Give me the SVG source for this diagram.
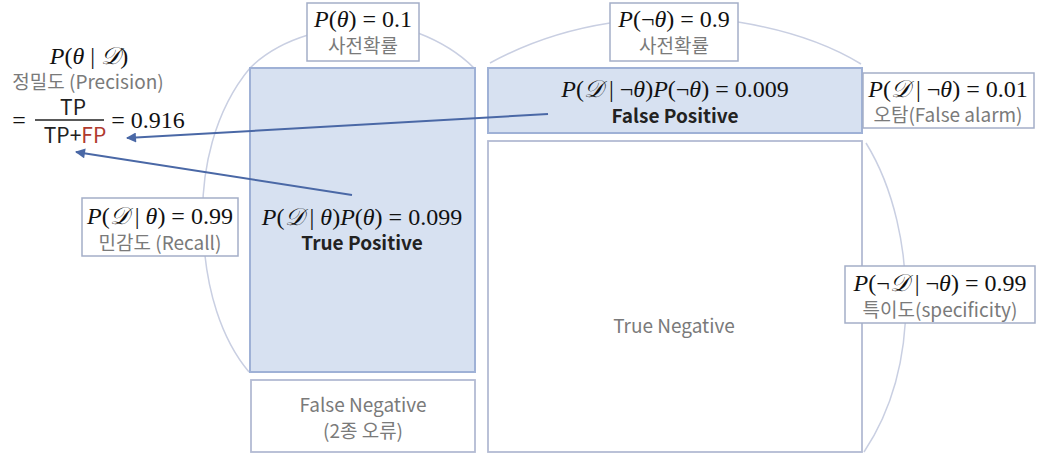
<svg xmlns="http://www.w3.org/2000/svg" width="1050" height="456" viewBox="0 0 1050 456">
<defs>
<style>
.arc{fill:none;stroke:#c9cfe2;stroke-width:1.5}
.blue{fill:#d7e1f1;stroke:#9fb1d6;stroke-width:2}
.white{fill:#fff;stroke:#b3bbd3;stroke-width:1.8}
.lbl{fill:#fff;stroke:#a4aec8;stroke-width:1.5}
.m{font-family:"Liberation Serif","DejaVu Serif",serif;font-size:24px;fill:#111;text-anchor:middle}
.i{font-style:italic}
.g{font-family:"Noto Sans CJK KR","Noto Sans",sans-serif;font-size:19px;fill:#7a7a7a;text-anchor:middle}
.b{font-family:"Noto Sans CJK KR","Noto Sans",sans-serif;font-size:19px;font-weight:bold;fill:#222;text-anchor:middle}
.s{font-family:"Noto Sans CJK KR","Noto Sans",sans-serif;font-size:21px;fill:#222;text-anchor:middle}
.arr{stroke:#4a68a6;stroke-width:2;fill:none;marker-end:url(#ah)}
</style>
<marker id="ah" viewBox="0 0 10 10" refX="9" refY="5" markerWidth="6" markerHeight="5" orient="auto" markerUnits="strokeWidth">
<path d="M0,0 L10,5 L0,10 z" fill="#4a68a6"/>
</marker>
</defs>
<rect width="1050" height="456" fill="#fff"/>
<g id="arcs">
<path class="arc" d="M308,35 Q272,46 250,68 C215,110 200,170 203,228 C205,290 222,340 249,372"/>
<path class="arc" d="M418,33 Q452,46 474,68"/>
<path class="arc" d="M490,63 Q545,33 610,23"/>
<path class="arc" d="M738,22 Q812,34 861,64"/>
<path class="arc" d="M866,143 C895,190 906,250 906,300 C906,360 892,410 864,452"/>
</g>
<g id="tp">
<rect class="blue" x="250" y="68" width="225" height="304"/>
<text class="m" x="362" y="225"><tspan class="i">P</tspan>(<tspan class="i">𝒟</tspan> | <tspan class="i">θ</tspan>)<tspan class="i">P</tspan>(<tspan class="i">θ</tspan>) = 0.099</text>
<text class="b" x="362" y="250">True Positive</text>
</g>
<g id="fn">
<rect class="white" x="251" y="380" width="224" height="72"/>
<text class="g" x="363" y="412">False Negative</text>
<text class="g" x="363" y="438">(2종 오류)</text>
</g>
<g id="fp">
<rect class="blue" x="488" y="68" width="374" height="65"/>
<text class="m" x="675" y="97"><tspan class="i">P</tspan>(<tspan class="i">𝒟</tspan> | ¬<tspan class="i">θ</tspan>)<tspan class="i">P</tspan>(¬<tspan class="i">θ</tspan>) = 0.009</text>
<text class="b" x="675" y="123">False Positive</text>
</g>
<g id="tn">
<rect class="white" x="488" y="141" width="374" height="311"/>
<text class="g" x="674" y="333">True Negative</text>
</g>
<g id="prior-theta">
<rect class="lbl" x="307" y="3" width="112" height="58"/>
<text class="m" x="363" y="27"><tspan class="i">P</tspan>(<tspan class="i">θ</tspan>) = 0.1</text>
<text class="g" x="363" y="53">사전확률</text>
</g>
<g id="prior-not-theta">
<rect class="lbl" x="610" y="3" width="128" height="58"/>
<text class="m" x="674" y="27"><tspan class="i">P</tspan>(¬<tspan class="i">θ</tspan>) = 0.9</text>
<text class="g" x="674" y="53">사전확률</text>
</g>
<g id="false-alarm">
<rect class="lbl" x="863" y="73" width="171" height="55"/>
<text class="m" x="948" y="97"><tspan class="i">P</tspan>(<tspan class="i">𝒟</tspan> | ¬<tspan class="i">θ</tspan>) = 0.01</text>
<text class="g" x="948" y="122">오탐(False alarm)</text>
</g>
<g id="recall">
<rect class="lbl" x="82" y="198" width="156" height="58"/>
<text class="m" x="160" y="224"><tspan class="i">P</tspan>(<tspan class="i">𝒟</tspan> | <tspan class="i">θ</tspan>) = 0.99</text>
<text class="g" x="160" y="250">민감도 (Recall)</text>
</g>
<g id="specificity">
<rect class="lbl" x="845" y="266" width="190" height="57"/>
<text class="m" x="940" y="291"><tspan class="i">P</tspan>(¬<tspan class="i">𝒟</tspan> | ¬<tspan class="i">θ</tspan>) = 0.99</text>
<text class="g" x="940" y="317">특이도(specificity)</text>
</g>
<g id="precision">
<text class="m" x="89" y="64"><tspan class="i">P</tspan>(<tspan class="i">θ</tspan> | <tspan class="i">𝒟</tspan>)</text>
<text class="g" x="88" y="89">정밀도 (Precision)</text>
<text class="m" x="19" y="128">=</text>
<text class="s" x="73" y="115">TP</text>
<line x1="35" y1="120" x2="104" y2="120" stroke="#222" stroke-width="1.3"/>
<text class="s" x="75" y="143">TP+<tspan fill="#b03a2e">FP</tspan></text>
<text class="m" x="148" y="128">= 0.916</text>
</g>
<g id="connectors">
<line class="arr" x1="548" y1="114" x2="127" y2="138"/>
<line class="arr" x1="352" y1="195" x2="76" y2="152"/>
</g>
</svg>
